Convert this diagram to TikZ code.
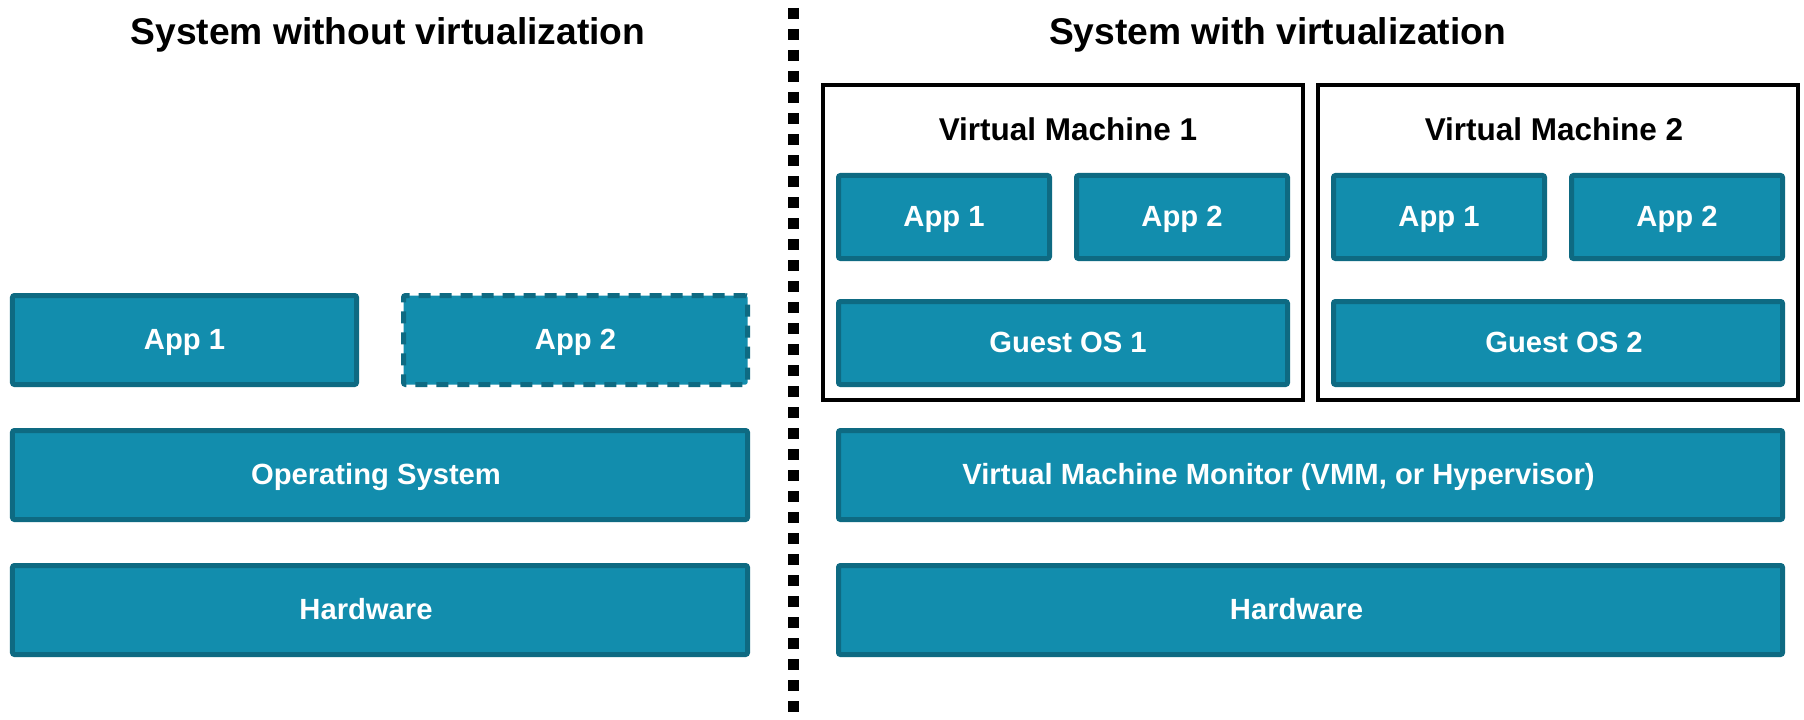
\documentclass[tikz,border=0pt]{standalone}
\usepackage{fontspec}
\setmainfont{Liberation Sans}
\definecolor{boxfill}{HTML}{128DAD}
\definecolor{boxline}{HTML}{0E6A82}
\begin{document}
\begin{tikzpicture}[x=1bp,y=-1bp,
  layer/.style={draw=boxline, fill=boxfill, line width=5bp, rounded corners=2bp,
    text=white, font=\fontsize{29.2bp}{34bp}\selectfont\bfseries,
    text height=21bp, text depth=2.5bp, inner sep=0pt, outer sep=0pt, align=center},
  lbl/.style={text=white, font=\fontsize{29.2bp}{34bp}\selectfont\bfseries,
    text height=21bp, text depth=2.5bp, inner sep=0pt},
  smallapp/.style={layer, minimum width=211bp, minimum height=83bp},
  vmbox/.style={draw=black, line width=4bp, fill=none, minimum width=480bp, minimum height=315bp, inner sep=0pt},
  maintitle/.style={font=\fontsize{37.2bp}{44bp}\selectfont\bfseries, anchor=base, inner sep=0pt},
  vmtitle/.style={font=\fontsize{31.5bp}{38bp}\selectfont\bfseries, anchor=base, inner sep=0pt},
  divider/.style={line width=11bp, dash pattern=on 11bp off 10bp}
]
\fill[white] (0,0) rectangle (1804,720);
\useasboundingbox (0,0) rectangle (1804,720);

% titles
\node[maintitle] (tleft) at (388,45) {System without virtualization};
\node[maintitle] (tright) at (1277.5,45) {System with virtualization};

% divider
\coordinate (dtop) at (793.5,8);
\coordinate (dbot) at (793.5,722);
\draw[divider] (dtop) -- (dbot);

% left stack
\node[layer, minimum width=344bp, minimum height=89bp] (lapp1) at (184.5,340) {App 1};
\node[layer, minimum width=344bp, minimum height=89bp, dash pattern=on 12bp off 9bp] (lapp2) at (575.5,340) {App 2};
\node[layer, minimum width=735bp, minimum height=89bp] (los) at (380,475) {};
\node[lbl, xshift=-4bp] (loslbl) at (los.center) {Operating System};
\node[layer, minimum width=735bp, minimum height=89bp] (lhw) at (380,610) {};
\node[lbl, xshift=-14bp] (lhwlbl) at (lhw.center) {Hardware};

% right: virtual machines
\node[vmbox] (vm1) at (1063,242.5) {};
\node[vmbox] (vm2) at (1558,242.5) {};
\node[vmtitle] (vm1t) at (1068,141) {Virtual Machine 1};
\node[vmtitle] (vm2t) at (1554,141) {Virtual Machine 2};

\node[smallapp] (v1a1) at (944,217) {App 1};
\node[smallapp] (v1a2) at (1182,217) {App 2};
\node[layer, minimum width=449bp, minimum height=83bp] (g1) at (1063,343) {};
\node[lbl, xshift=5bp] (g1lbl) at (g1.center) {Guest OS 1};

\node[smallapp] (v2a1) at (1439,217) {App 1};
\node[smallapp] (v2a2) at (1677,217) {App 2};
\node[layer, minimum width=449bp, minimum height=83bp] (g2) at (1558,343) {};
\node[lbl, xshift=6bp] (g2lbl) at (g2.center) {Guest OS 2};

% right: lower stack
\node[layer, minimum width=944bp, minimum height=89bp] (vmm) at (1310.5,475) {};
\node[lbl, xshift=-32bp] (vmmlbl) at (vmm.center) {Virtual Machine Monitor (VMM, or Hypervisor)};
\node[layer, minimum width=944bp, minimum height=89bp] (rhw) at (1310.5,610) {};
\node[lbl, xshift=-14bp] (rhwlbl) at (rhw.center) {Hardware};
\end{tikzpicture}
\end{document}
